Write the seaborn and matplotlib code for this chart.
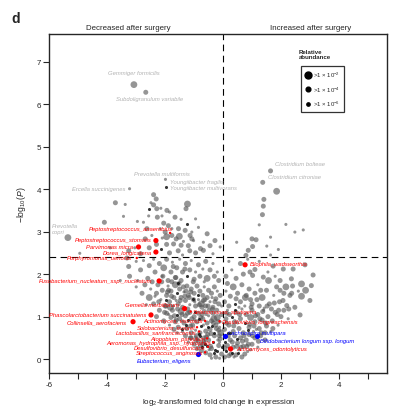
import pandas as pd
import numpy as np
import matplotlib
matplotlib.use('Agg')
import matplotlib.pyplot as plt
from matplotlib.lines import Line2D
import seaborn as sns

# ---- datos: nube de especies (log2 FC, -log10 P, clase de abundancia) ----
# L: >1e-2, M: >1e-4, S: >1e-6, D: punto oscuro pequeño
left_hi_x = [-3.72, -3.38, -4.10, -3.44, -2.40, -2.31, -2.49, -2.57, -2.40, -2.29,
             -2.15, -1.94, -1.85, -1.28, -1.23, -2.57, -2.27, -2.11, -1.66, -1.45,
             -1.23, -2.75, -2.96, -1.89, -1.77, -1.54, -1.51, -1.62, -1.08, -1.08,
             -1.31, -2.00, -2.17, -2.63, -2.46, -2.69, -1.77, -1.37, -1.71, -1.20,
             -0.28, -0.10, -0.45, -0.68, -1.02, -1.14, -0.68, -0.85, -0.55, -3.26,
             -3.05, -2.85, -2.55, -2.15, -1.95, -1.85, -1.55, -1.40, -0.95, -0.35,
             -4.95, -3.90, -2.10, -0.95, -2.30, -1.95, -1.45, -1.15, -0.78, -2.05]
left_hi_y = [3.68, 3.64, 3.22, 3.36, 3.87, 3.77, 3.68, 3.54, 3.63, 3.54,
             3.55, 3.50, 3.46, 3.54, 3.65, 3.37, 3.34, 3.37, 3.34, 3.29,
             3.18, 3.22, 3.24, 3.14, 3.07, 3.07, 2.89, 2.83, 2.83, 2.99,
             3.03, 2.99, 3.07, 3.07, 2.91, 2.83, 2.91, 2.77, 2.71, 2.67,
             2.79, 2.64, 2.67, 2.56, 2.79, 2.91, 2.75, 3.10, 2.95, 2.55,
             2.62, 2.48, 2.62, 2.58, 2.70, 2.50, 2.55, 2.45, 2.50, 2.48,
             2.49, 2.62, 2.85, 3.30, 2.70, 2.88, 2.68, 2.55, 2.60, 3.20]
left_hi_size = "MSMSMMSDMM" "SMSMLSMSMS" "DSSMSMLMMS" "MMSMSMMSMM" "MSMMSMSSMM" "SMMDMMMSMS" "SSSSMLMMMM"

left_mid_x = [-3.32, -3.26, -3.23, -3.00, -2.85, -2.75, -2.60, -2.55, -2.40, -2.35,
              -2.20, -2.10, -2.05, -1.95, -1.90, -1.80, -1.75, -1.65, -1.60, -1.50,
              -1.45, -1.40, -1.30, -1.25, -1.15, -1.10, -1.00, -0.95, -0.85, -0.80,
              -0.70, -0.60, -0.55, -0.45, -0.35, -0.30, -0.20, -0.15, -3.55, -2.95,
              -2.45, -1.55, -0.65]
left_mid_y = [2.38, 2.18, 1.95, 2.30, 2.10, 2.32, 1.90, 2.20, 2.35, 2.05,
              2.25, 1.95, 2.15, 2.35, 1.85, 2.05, 2.28, 1.92, 2.15, 2.35,
              1.85, 2.05, 2.25, 1.95, 2.10, 2.32, 1.88, 2.05, 2.22, 1.95,
              2.12, 2.30, 1.90, 2.10, 2.25, 1.95, 2.05, 1.85, 1.85, 1.85,
              1.82, 1.80, 1.82]
left_mid_size = "MMMSMSMMSM" "MSLMMMSMMS" "MMMDMSMSMM" "SMLMSMSMSS" "MDS"

left_band_x = [-3.00, -2.80, -2.70, -2.55, -2.50, -2.40, -2.30, -2.25, -2.15, -2.10,
               -2.00, -1.95, -1.90, -1.85, -1.80, -1.72, -1.70, -1.65, -1.60, -1.55,
               -1.50, -1.45, -1.40, -1.35, -1.30, -1.25, -1.20, -1.15, -1.10, -1.05,
               -1.00, -0.95, -0.90, -0.85, -0.80, -0.75, -0.70, -0.65, -0.60, -0.55,
               -0.50, -0.45, -0.40, -0.35, -0.30, -0.25, -0.20, -0.15, -0.10, -0.05,
               -2.65, -2.35, -1.98, -1.62, -1.32, -0.98, -0.68, -0.38, -1.78, -1.12]
left_band_y = [1.70, 1.55, 1.75, 1.45, 1.65, 1.30, 1.55, 1.75, 1.40, 1.62,
               1.25, 1.50, 1.72, 1.35, 1.60, 1.25, 1.45, 1.75, 1.55, 1.30,
               1.65, 1.45, 1.22, 1.58, 1.38, 1.72, 1.50, 1.28, 1.65, 1.42,
               1.55, 1.25, 1.72, 1.40, 1.60, 1.30, 1.50, 1.70, 1.25, 1.45,
               1.62, 1.35, 1.55, 1.22, 1.70, 1.42, 1.60, 1.30, 1.50, 1.25,
               1.28, 1.48, 1.38, 1.38, 1.48, 1.35, 1.38, 1.45, 1.48, 1.58]
left_band_size = "SMMLSMMMSM" "MMSMMSMLDM" "MMMSMMMSMD" "MMMSMLMSMM" "MSMMMMSMMS" "SSDSMSMSMM"

left_low_x = [-2.30, -2.20, -2.05, -1.95, -1.85, -1.80, -1.75, -1.70, -1.65, -1.60,
              -1.55, -1.50, -1.45, -1.40, -1.35, -1.30, -1.25, -1.20, -1.15, -1.10,
              -1.05, -1.00, -0.95, -0.90, -0.85, -0.80, -0.75, -0.70, -0.65, -0.60,
              -0.55, -0.50, -0.45, -0.40, -0.35, -0.30, -0.25, -0.20, -0.15, -0.10,
              -0.05, -1.88, -1.58, -1.28, -0.98, -0.68, -0.38, -0.12, -1.42, -0.82,
              -0.52]
left_low_y = [1.00, 1.15, 0.90, 1.08, 0.80, 0.98, 1.15, 0.70, 0.88, 1.05,
              0.75, 0.95, 1.12, 0.65, 0.85, 1.02, 0.72, 0.92, 1.10, 0.62,
              0.80, 1.00, 0.68, 0.88, 1.08, 0.62, 0.78, 0.95, 1.12, 0.66,
              0.85, 1.02, 0.70, 0.90, 1.08, 0.62, 0.80, 0.98, 0.68, 0.88,
              1.05, 1.05, 0.62, 0.80, 0.92, 0.80, 0.78, 0.75, 0.90, 0.95,
              0.75]
left_low_size = "MMMMSMMMMD" "MMLSMMMDMM" "MMSMMMDMMM" "MSMMMDMLMS" "MSSDSSDSSD" "D"

left_base_x = [-1.30, -1.20, -1.10, -1.00, -0.95, -0.90, -0.85, -0.80, -0.75, -0.70,
               -0.65, -0.60, -0.55, -0.50, -0.45, -0.40, -0.35, -0.30, -0.25, -0.20,
               -0.15, -0.10, -0.05, -0.02, -0.62, -0.32, -0.18, -0.48, -0.72, -0.88,
               -0.12, -0.40]
left_base_y = [0.55, 0.40, 0.50, 0.35, 0.52, 0.25, 0.42, 0.55, 0.20, 0.35,
               0.50, 0.15, 0.30, 0.45, 0.10, 0.25, 0.40, 0.55, 0.05, 0.18,
               0.32, 0.48, 0.12, 0.28, 0.42, 0.15, 0.45, 0.22, 0.28, 0.48,
               0.02, 0.02]
left_base_size = "MSMMSMMDMM" "MMDMMMDMMD" "MMMDSDSSDS" "SS"

left_fill_x = [-2.22, -2.12, -2.02, -1.92, -1.82, -1.72, -1.62, -1.52, -1.42, -1.32,
               -1.22, -1.12, -1.02, -0.92, -0.82, -0.72, -0.62, -0.52, -0.42, -0.32,
               -0.22, -0.12, -2.08, -1.88, -1.68, -1.48, -1.28, -1.08, -0.88, -0.68,
               -0.48, -0.28, -0.08, -1.97, -1.77, -1.57, -1.37, -1.17, -0.97, -0.77,
               -0.57, -0.37, -0.17, -1.63, -1.43, -1.23, -1.03, -0.83, -0.63, -0.43,
               -0.23, -0.93, -0.73, -0.53, -0.33, -0.13, -1.13, -0.78, -0.58, -0.27]
left_fill_y = [1.35, 1.82, 1.10, 1.58, 1.22, 2.18, 0.92, 1.78, 1.05, 2.12,
               1.18, 0.78, 1.40, 0.55, 1.28, 1.05, 0.35, 1.25, 0.60, 0.95,
               1.15, 0.40, 1.95, 1.62, 1.02, 1.38, 1.60, 0.95, 1.50, 0.42,
               1.15, 1.35, 0.62, 1.25, 1.82, 1.18, 1.70, 1.45, 1.10, 0.98,
               0.52, 1.18, 0.88, 1.92, 0.72, 1.08, 1.82, 0.58, 1.40, 0.30,
               0.72, 0.45, 1.22, 0.58, 0.85, 0.55, 0.50, 0.32, 1.05, 0.22]
left_fill_size = "MMMMLMMMMM" "MMMMMMDMML" "MSMMMMMMDM" "MMLMMMMMDM" "MMMMDMMDMM" "MMMMMMMMSD"

right_base_x = [0.05, 0.10, 0.15, 0.20, 0.25, 0.30, 0.35, 0.40, 0.45, 0.50,
                0.55, 0.60, 0.65, 0.70, 0.80, 0.85, 0.90, 1.00, 1.10, 1.20,
                1.30, 1.45, 0.08, 0.22, 0.38, 0.48, 0.75, 0.95, 0.02, 0.18]
right_base_y = [0.05, 0.18, 0.32, 0.08, 0.45, 0.15, 0.28, 0.55, 0.10, 0.38,
                0.22, 0.50, 0.05, 0.30, 0.45, 0.18, 0.58, 0.35, 0.50, 0.28,
                0.55, 0.45, 0.40, 0.25, 0.05, 0.48, 0.12, 0.22, 0.32, 0.55]
right_base_size = "MDMMMDMMMM" "SMMMMSMMMS" "MMDDSDMSSM"

right_low_x = [0.05, 0.10, 0.15, 0.20, 0.30, 0.35, 0.40, 0.45, 0.55, 0.60,
               0.65, 0.70, 0.75, 0.80, 0.90, 0.95, 1.00, 1.05, 1.10, 1.20,
               1.25, 1.35, 1.40, 1.50, 1.55, 1.65, 1.70, 1.80, 1.90, 2.00,
               2.10, 2.25, 0.25, 0.50, 0.85, 1.15, 1.45, 0.12]
right_low_y = [0.70, 0.95, 1.15, 0.80, 1.00, 0.65, 0.88, 1.10, 0.72, 0.95,
               1.18, 0.62, 0.85, 1.05, 0.75, 0.98, 1.15, 0.65, 0.88, 1.05,
               0.72, 0.92, 1.15, 0.78, 1.00, 0.65, 0.90, 1.10, 0.80, 1.00,
               1.15, 0.95, 0.62, 0.85, 0.68, 0.70, 0.62, 1.08]
right_low_size = "MMSMDMMMMM" "SMDMMLMSMM" "MMSMMSMMSM" "MSDSDSMM"

right_mid_x = [0.05, 0.10, 0.20, 0.25, 0.35, 0.40, 0.50, 0.60, 0.65, 0.75,
               0.80, 0.90, 1.00, 1.10, 1.20, 1.25, 1.35, 1.50, 1.60, 1.75,
               1.85, 1.95, 2.10, 2.20, 2.31, 2.48, 2.60, 2.71, 2.66, 3.00,
               0.55, 1.42, 0.15, 0.45, 0.95, 1.30, 2.40, 2.85]
right_mid_y = [1.35, 1.60, 1.25, 1.48, 1.70, 1.30, 1.55, 1.35, 1.75, 1.25,
               1.50, 1.65, 1.30, 1.55, 1.75, 1.25, 1.45, 1.62, 1.30, 1.50,
               1.70, 1.35, 1.55, 1.26, 1.50, 1.22, 1.60, 1.48, 1.04, 1.38,
               1.22, 1.20, 1.78, 1.42, 1.40, 1.62, 1.72, 1.62]
right_mid_size = "MSMMLDMMMS" "MMMMSMLMMS" "MMMMMMSLMM" "SSMMMMML"

right_fill_x = [0.07, 0.17, 0.27, 0.37, 0.47, 0.57, 0.67, 0.77, 0.87, 0.97,
                1.07, 1.17, 1.27, 1.37, 1.47, 1.57, 1.67, 1.77, 1.87, 1.97,
                2.07, 2.17, 2.27, 2.37, 0.12, 0.32, 0.52, 0.72, 0.92, 1.12,
                1.32, 1.52, 1.72, 1.92, 0.22, 0.42, 0.62, 0.82, 1.02, 1.22]
right_fill_y = [0.25, 0.62, 0.12, 0.78, 0.30, 1.05, 0.42, 1.45, 0.35, 1.22,
                0.78, 1.40, 0.95, 1.12, 0.85, 1.85, 1.18, 1.32, 1.05, 1.62,
                1.38, 1.70, 1.18, 1.55, 0.85, 0.40, 0.15, 0.55, 0.82, 1.02,
                0.62, 1.25, 0.72, 1.15, 1.05, 1.15, 0.28, 0.30, 0.55, 0.42]
right_fill_size = "MDMMMMMLMM" "MMMMMLMMMM" "MLMMMMDMMM" "MMMMMDMMMM"

right_up_x = [0.10, 0.30, 0.45, 0.60, 0.70, 0.93, 1.02, 1.10, 1.25, 1.39,
              1.55, 1.73, 1.97, 2.08, 2.36, 2.42, 2.71, 2.83, 3.05, 3.11,
              0.85, 1.80, 0.20]
right_up_y = [1.95, 2.10, 1.90, 2.25, 2.00, 2.05, 1.97, 2.11, 2.30, 1.93,
              2.05, 2.19, 1.85, 2.12, 1.89, 2.12, 1.77, 2.22, 1.73, 1.98,
              2.35, 1.95, 2.30]
right_up_size = "MSMMMMMMSM" "SMMMMMLMMM" "SSS"

right_hi_x = [1.41, 1.39, 1.36, 2.17, 1.25, 2.48, 2.77, 1.64, 1.00, 1.14,
              1.02, 1.91, 1.51, 0.87, 0.79, 1.64, 0.47]
right_hi_y = [3.76, 3.60, 3.40, 3.17, 3.16, 2.99, 3.04, 2.87, 2.83, 2.81,
              2.65, 2.58, 2.66, 2.56, 2.44, 2.45, 2.75]
right_hi_size = "MMMSSSSSMM" "MSSMMSS"

# especies grises con nombre
grey_names = ['Gemmiger formicilis', 'Subdoligranulum variabile', 'Youngiibacter fragilis',
              'Youngiibacter multivorans', 'Ercella succinigenes', 'Prevotella\ncopri',
              'Clostridium bolteae', 'Clostridium citroniae', '']
grey_x = [-3.08, -2.67, -1.99, -1.97, -3.23, -5.36, 1.64, 1.37, 1.85]
grey_y = [6.46, 6.28, 4.23, 4.05, 4.01, 2.86, 4.43, 4.16, 3.95]
grey_size = "LMSDSLMML"

# especies destacadas (rojo: disminuyen, azul: aumentan)
red_names = ['Peptostreptococcus_anaerobius', 'Peptostreptococcus_stomatis', 'Parvimonas micra',
             'Dorea_longicatena', 'Porphyromonas_uenonis', 'Fusobacterium_nucleatum_ssp._nucleatum',
             'Gemella morbillorum', 'Phascolarctobacterium succinatutens', 'Collinsella_aerofaciens',
             'Selenomonas_sputigena', 'Actinomyces_viscosus', 'Desulfovibrio_longreachensis',
             'Solobacterium_moorei', 'Lactobacillus_sanfranciscensis', 'Atopobium_parvulum',
             'Aeromonas_hydrophila_ssp._hydrophila', 'Desulfovibrio_desulfuricans',
             'Streptococcus_anginosus', 'Bilophila_wadsworthia', 'Actinomyces_odontolyticus']
red_x = [-1.83, -2.32, -2.92, -2.32, -2.98, -2.21, -1.33, -2.49, -3.11, -1.12,
         -0.62, -0.12, -0.90, -0.83, -0.55, -0.34, -0.52, -0.62, 0.76, 0.26]
red_y = [2.97, 2.79, 2.64, 2.52, 2.38, 1.84, 1.19, 1.04, 0.88, 1.12,
         0.90, 0.89, 0.75, 0.65, 0.49, 0.40, 0.29, 0.16, 2.22, 0.24]
red_size = "SMMMSMMMMS" "SSSSSSSSMM"

blue_names = ['Eubacterium_eligens', 'Lachnospira multipara', 'Bifidobacterium longum ssp. longum']
blue_x = [-0.87, 0.07, 1.16]
blue_y = [0.12, 0.54, 0.54]

# ---- posiciones de las etiquetas (solo maquetación) ----
grey_lab = [(-3.08, 6.75, 'center'), (-2.55, 6.14, 'center'), (-1.85, 4.19, 'left'),
            (-1.85, 4.04, 'left'), (-3.38, 4.01, 'right'), (-5.90, 3.08, 'left'),
            (1.79, 4.61, 'left'), (1.55, 4.30, 'left'), (0, 0, 'left')]
red_lab = [(-1.72, 3.08, 'right'), (-2.48, 2.81, 'right'), (-3.10, 2.65, 'right'),
           (-2.45, 2.52, 'right'), (-3.15, 2.38, 'right'), (-2.45, 1.84, 'right'),
           (-1.51, 1.29, 'right'), (-2.66, 1.05, 'right'), (-3.32, 0.88, 'right'),
           (-1.05, 1.12, 'left'), (-0.69, 0.90, 'right'), (-0.03, 0.89, 'left'),
           (-0.97, 0.75, 'right'), (-0.90, 0.65, 'right'), (-0.62, 0.49, 'right'),
           (-0.41, 0.40, 'right'), (-0.59, 0.29, 'right'), (-0.69, 0.16, 'right'),
           (0.93, 2.25, 'left'), (0.45, 0.24, 'left')]
blue_lab = [(-1.08, -0.03, 'right'), (0.17, 0.62, 'left'), (1.28, 0.44, 'left')]

sizes = {'L': 24, 'M': 13, 'S': 5, 'D': 5}

regions = [
    (left_hi_x, left_hi_y, left_hi_size), (left_mid_x, left_mid_y, left_mid_size),
    (left_band_x, left_band_y, left_band_size), (left_low_x, left_low_y, left_low_size),
    (left_base_x, left_base_y, left_base_size), (left_fill_x, left_fill_y, left_fill_size),
    (right_base_x, right_base_y, right_base_size), (right_low_x, right_low_y, right_low_size),
    (right_mid_x, right_mid_y, right_mid_size), (right_fill_x, right_fill_y, right_fill_size),
    (right_up_x, right_up_y, right_up_size), (right_hi_x, right_hi_y, right_hi_size),
    (grey_x, grey_y, grey_size),
]
frames = []
for xs, ys, ss in regions:
    assert len(xs) == len(ys) == len(ss)
    frames.append(pd.DataFrame({'x': xs, 'y': ys, 'clase': list(ss)}))
cloud = pd.concat(frames, ignore_index=True)

sns.set_style('ticks')
plt.rcParams['font.family'] = ['Liberation Sans', 'DejaVu Sans']
plt.rcParams['mathtext.fontset'] = 'custom'
plt.rcParams['mathtext.rm'] = 'Liberation Sans'
plt.rcParams['mathtext.it'] = 'Liberation Sans:italic'
plt.rcParams['axes.unicode_minus'] = True

fig = plt.figure(figsize=(3.95, 4.14), dpi=100)
ax = fig.add_axes([0.125, 0.0973, 0.856, 0.818])

grey_pts = cloud[cloud['clase'] != 'D']
dark_pts = cloud[cloud['clase'] == 'D']
sns.scatterplot(data=grey_pts, x='x', y='y', size='clase', sizes=sizes, color='#555555',
                alpha=0.62, linewidth=0, legend=False, ax=ax)
sns.scatterplot(data=dark_pts, x='x', y='y', color='#111111', s=5, alpha=0.85,
                linewidth=0, legend=False, ax=ax)

red_df = pd.DataFrame({'x': red_x, 'y': red_y, 'clase': list(red_size)})
sns.scatterplot(data=red_df, x='x', y='y', size='clase', sizes={'M': 14, 'S': 3},
                color='#ff0000', linewidth=0, legend=False, ax=ax, zorder=4)
sns.scatterplot(x=blue_x, y=blue_y, color='#0000ff', s=14, linewidth=0, legend=False,
                ax=ax, zorder=4)

# líneas de corte
ax.axvline(0, color='black', lw=0.8, dashes=(6, 4))
ax.axhline(2.4, color='black', lw=0.8, dashes=(6, 4))

fs_lab = 4.2
for name, (lx, ly, ha) in zip(grey_names, grey_lab):
    if name:
        ax.text(lx, ly, name, color='#b3b3b3', style='italic', fontsize=fs_lab,
                ha=ha, va='center', linespacing=1.2)
for name, (lx, ly, ha) in zip(red_names, red_lab):
    ax.text(lx, ly, name, color='#ff0000', style='italic', fontsize=fs_lab,
            ha=ha, va='center', clip_on=False, zorder=5)
for name, (lx, ly, ha) in zip(blue_names, blue_lab):
    ax.text(lx, ly, name, color='#0000ff', style='italic', fontsize=fs_lab,
            ha=ha, va='center', zorder=5)
ax.text(-2.12, 4.38, 'Prevotella multiformis', color='#b3b3b3', style='italic',
        fontsize=fs_lab, ha='center', va='center')

ax.set_xlim(-6, 5.68)
ax.set_ylim(-0.32, 7.65)
ax.set_xticks(range(-6, 6))
ax.set_xticklabels([str(v) if v % 2 == 0 else '' for v in range(-6, 6)])
ax.set_yticks(range(0, 8))
ax.tick_params(labelsize=5.8, length=4, width=0.8, pad=2)
for sp in ax.spines.values():
    sp.set_linewidth(1.0)

ax.set_xlabel('log$_2$-transformed fold change in expression', fontsize=5.8, labelpad=6)
ax.set_ylabel('$-$log$_{10}$($\\mathit{P}$)', fontsize=6.2, labelpad=6)

tr = ax.get_xaxis_transform()
ax.text(-3.28, 1.008, 'Decreased after surgery', transform=tr, ha='center', va='bottom', fontsize=5.7)
ax.text(3.02, 1.008, 'Increased after surgery', transform=tr, ha='center', va='bottom', fontsize=5.7)
fig.text(0.028, 0.972, 'd', fontsize=10, fontweight='bold', va='top')

# leyenda de abundancia relativa
handles = [Line2D([], [], marker='o', ls='', color='black', markersize=ms) for ms in (5, 3.4, 2.4)]
labels = ['>1 × 10$^{-2}$', '>1 × 10$^{-4}$', '>1 × 10$^{-6}$']
leg = ax.legend(handles, labels, loc='upper left', bbox_to_anchor=(0.735, 0.914),
                frameon=True, fancybox=False, edgecolor='black', fontsize=4.3,
                handletextpad=0.3, labelspacing=0.9, borderpad=0.6, handlelength=1.2)
leg.get_frame().set_linewidth(0.9)
ax.text(0.738, 0.925, 'Relative\nabundance', transform=ax.transAxes, fontsize=4.4,
        fontweight='bold', ha='left', va='bottom', linespacing=1.1)

plt.savefig('out.png', dpi=100)
plt.close()
